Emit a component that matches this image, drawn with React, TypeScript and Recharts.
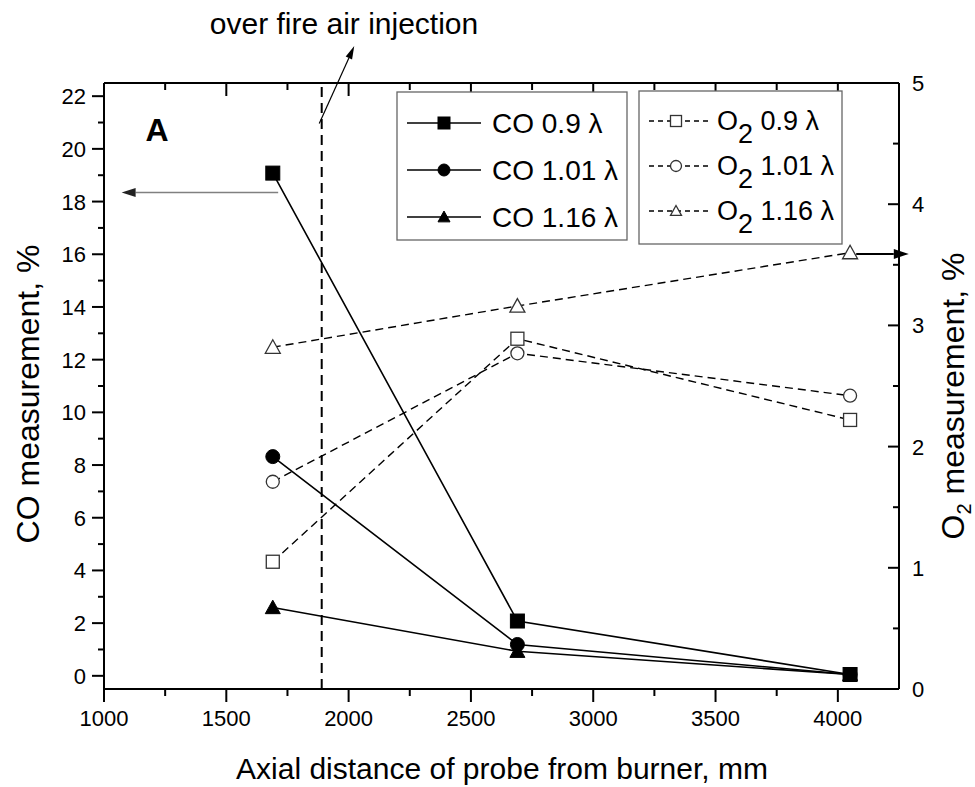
import React from 'react';
import { ComposedChart, Line, XAxis, YAxis, ReferenceLine, Legend, Label } from 'recharts';

// ---------- data ----------
const distances = [1690, 2690, 4050];
const co09 = [19.08, 2.08, 0.05];
const co101 = [8.32, 1.19, 0.05];
const co116 = [2.59, 0.93, 0.05];
const o209 = [1.05, 2.89, 2.22];
const o2101 = [1.71, 2.77, 2.42];
const o2116 = [2.82, 3.16, 3.6];

const xTicks = [1000, 1250, 1500, 1750, 2000, 2250, 2500, 2750, 3000, 3250, 3500, 3750, 4000];
const coTicks = [0, 1, 2, 3, 4, 5, 6, 7, 8, 9, 10, 11, 12, 13, 14, 15, 16, 17, 18, 19, 20, 21, 22];
const o2Ticks = [0, 0.5, 1, 1.5, 2, 2.5, 3, 3.5, 4, 4.5, 5];

const ofaPosition = 1890;
const coLegend = ['CO 0.9 λ', 'CO 1.01 λ', 'CO 1.16 λ'];
const o2Legend = ['0.9 λ', '1.01 λ', '1.16 λ'];
const markerShapes = ['square', 'circle', 'triangle'];

const data = distances.map((d, i) => ({
  x: d,
  co09: co09[i],
  co101: co101[i],
  co116: co116[i],
  o209: o209[i],
  o2101: o2101[i],
  o2116: o2116[i],
}));

const FONT = '"Liberation Sans", Arial, Helvetica, sans-serif';

// ---------- markers ----------
const Marker = ({ cx, cy, shape, filled, size }: any) => {
  const fill = filled ? '#000' : '#fff';
  const stroke = filled ? '#000' : '#333';
  const sw = filled ? 1 : 1.3;
  if (shape === 'square') {
    return <rect x={cx - size / 2} y={cy - size / 2} width={size} height={size} fill={fill} stroke={stroke} strokeWidth={sw} />;
  }
  if (shape === 'circle') {
    return <circle cx={cx} cy={cy} r={size / 2} fill={fill} stroke={stroke} strokeWidth={sw} />;
  }
  const h = size * 0.9;
  return (
    <polygon
      points={`${cx},${cy - h * 0.55} ${cx - size / 2},${cy + h * 0.45} ${cx + size / 2},${cy + h * 0.45}`}
      fill={fill}
      stroke={stroke}
      strokeWidth={sw}
      strokeLinejoin="miter"
    />
  );
};

const dotFn = (shape: string, filled: boolean, size: number) => (p: any) => (
  <Marker key={`m-${shape}-${filled}-${p.index}`} cx={p.cx} cy={p.cy} shape={shape} filled={filled} size={size} />
);

// ---------- ticks ----------
const BottomTick = (p: any) => {
  const { x, y, payload } = p;
  const v = payload.value;
  const major = v % 500 === 0;
  return (
    <g>
      <line x1={x} y1={y} x2={x} y2={y + (major ? 13 : 7)} stroke="#000" strokeWidth={2} />
      {major && (
        <text x={x} y={y + 37} textAnchor="middle" fontSize={22} fontFamily={FONT} fill="#000">
          {v}
        </text>
      )}
    </g>
  );
};

const TopTick = (p: any) => {
  const { x, y, payload } = p;
  const major = payload.value % 500 === 0;
  return <line x1={x} y1={y} x2={x} y2={y + (major ? 13 : 7)} stroke="#000" strokeWidth={2} />;
};

const LeftTick = (p: any) => {
  const { x, y, payload } = p;
  const v = payload.value;
  const major = v % 2 === 0;
  return (
    <g>
      <line x1={x - (major ? 12 : 6)} y1={y} x2={x} y2={y} stroke="#000" strokeWidth={2} />
      {major && (
        <text x={x - 18} y={y + 8} textAnchor="end" fontSize={22} fontFamily={FONT} fill="#000">
          {v}
        </text>
      )}
    </g>
  );
};

const RightTick = (p: any) => {
  const { x, y, payload } = p;
  const v = payload.value;
  const major = Number.isInteger(v);
  return (
    <g>
      <line x1={x - (major ? 11 : 6)} y1={y} x2={x} y2={y} stroke="#000" strokeWidth={2} />
      {major && (
        <text x={x + 13} y={y + 8} textAnchor="start" fontSize={22} fontFamily={FONT} fill="#000">
          {v}
        </text>
      )}
    </g>
  );
};

// ---------- arrows ----------
const arrowShape = (color: string, headColor: string, width: number, headLen: number, headHalf: number) => (props: any) => {
  const { x1, y1, x2, y2 } = props;
  const dx = x2 - x1;
  const dy = y2 - y1;
  const len = Math.hypot(dx, dy) || 1;
  const ux = dx / len;
  const uy = dy / len;
  const bx = x2 - ux * headLen;
  const by = y2 - uy * headLen;
  const px = -uy;
  const py = ux;
  return (
    <g>
      <line x1={x1} y1={y1} x2={bx} y2={by} stroke={color} strokeWidth={width} />
      <polygon
        points={`${x2},${y2} ${bx + px * headHalf},${by + py * headHalf} ${bx - px * headHalf},${by - py * headHalf}`}
        fill={headColor}
      />
    </g>
  );
};

// ---------- legend / annotations overlay ----------
const LegendContent = () => {
  const coRows = [123, 170, 217];
  const o2Rows = [121, 166, 211];
  return (
    <svg width={975} height={787} style={{ position: 'absolute', left: 0, top: 0, overflow: 'visible' }}>
      <text x={157} y={141} textAnchor="middle" fontSize={32} fontWeight="bold" fontFamily={FONT} fill="#000">
        A
      </text>
      <rect x={397} y={92} width={230} height={148} fill="#fff" stroke="#666" strokeWidth={1.3} />
      {coLegend.map((t, i) => (
        <g key={t}>
          <line x1={407} y1={coRows[i]} x2={481} y2={coRows[i]} stroke="#000" strokeWidth={1.6} />
          <Marker cx={444} cy={coRows[i]} shape={markerShapes[i]} filled size={12} />
          <text x={492} y={coRows[i] + 10} fontSize={28} fontFamily={FONT} fill="#000">
            {t}
          </text>
        </g>
      ))}
      <rect x={639} y={91} width={203} height={153} fill="#fff" stroke="#666" strokeWidth={1.3} />
      {o2Legend.map((t, i) => (
        <g key={t}>
          <line x1={649} y1={o2Rows[i]} x2={710} y2={o2Rows[i]} stroke="#000" strokeWidth={1.3} strokeDasharray="5 4" />
          <Marker cx={676} cy={o2Rows[i]} shape={markerShapes[i]} filled={false} size={11} />
          <text x={717} y={o2Rows[i] + 9} fontSize={27} fontFamily={FONT} fill="#000">
            O<tspan dy={13}>2</tspan>
            <tspan dy={-13}>{' ' + t}</tspan>
          </text>
        </g>
      ))}
    </svg>
  );
};

// ---------- axis titles ----------
const LeftTitle = () => (
  <text x={39} y={394} transform="rotate(-90 39 394)" textAnchor="middle" fontSize={32} fontFamily={FONT} fill="#000">
    CO measurement, %
  </text>
);

const RightTitle = () => (
  <text x={964} y={396} transform="rotate(-90 964 396)" textAnchor="middle" fontSize={32} fontFamily={FONT} fill="#000">
    O<tspan dy={7} fontSize={20}>2</tspan>
    <tspan dy={-7}> measurement, %</tspan>
  </text>
);

const BottomTitle = () => (
  <text x={502} y={779} textAnchor="middle" fontSize={30} fontFamily={FONT} fill="#000">
    Axial distance of probe from burner, mm
  </text>
);

export default function App() {
  const axisLine = { stroke: '#000', strokeWidth: 2 };
  return (
    <div style={{ position: 'absolute', left: 0, top: 0, width: 975, height: 787, background: '#fff' }}>
      <ComposedChart width={975} height={787} data={data} margin={{ top: 73, right: 16, bottom: 58, left: 44 }}>
        <XAxis
          type="number"
          dataKey="x"
          domain={[1000, 4250]}
          ticks={xTicks}
          interval={0}
          allowDataOverflow
          height={40}
          tickSize={0}
          tickMargin={0}
          tickLine={false}
          axisLine={axisLine}
          tick={(p: any) => <BottomTick {...p} />}
        >
          <Label content={() => <BottomTitle />} />
        </XAxis>
        <XAxis
          xAxisId="top"
          orientation="top"
          type="number"
          dataKey="x"
          domain={[1000, 4250]}
          ticks={xTicks}
          interval={0}
          allowDataOverflow
          height={10}
          tickSize={0}
          tickMargin={0}
          tickLine={false}
          axisLine={axisLine}
          tick={(p: any) => <TopTick {...p} />}
        />
        <YAxis
          yAxisId="co"
          type="number"
          domain={[-0.5, 22.5]}
          ticks={coTicks}
          interval={0}
          allowDataOverflow
          width={60}
          tickSize={0}
          tickMargin={0}
          tickLine={false}
          axisLine={axisLine}
          tick={(p: any) => <LeftTick {...p} />}
        >
          <Label content={() => <LeftTitle />} />
        </YAxis>
        <YAxis
          yAxisId="o2"
          orientation="right"
          type="number"
          domain={[0, 5]}
          ticks={o2Ticks}
          interval={0}
          allowDataOverflow
          width={60}
          tickSize={0}
          tickMargin={0}
          tickLine={false}
          axisLine={axisLine}
          tick={(p: any) => <RightTick {...p} />}
        >
          <Label content={() => <RightTitle />} />
        </YAxis>

        <ReferenceLine x={ofaPosition} yAxisId="co" stroke="#000" strokeWidth={2} strokeDasharray="10 6" />
        <ReferenceLine
          yAxisId="co"
          ifOverflow="visible"
          segment={[{ x: 1712, y: 18.34 }, { x: 1072, y: 18.34 }]}
          shape={arrowShape('#808080', '#222', 1.5, 14, 4.5)}
        />
        <ReferenceLine
          yAxisId="co"
          ifOverflow="visible"
          segment={[{ x: 1880, y: 20.96 }, { x: 2023, y: 23.9 }]}
          shape={arrowShape('#000', '#000', 1.2, 13, 3.5)}
        />
        <ReferenceLine
          yAxisId="o2"
          ifOverflow="visible"
          segment={[{ x: 4075, y: 3.59 }, { x: 4290, y: 3.59 }]}
          shape={arrowShape('#000', '#000', 2, 15, 5)}
        />

        <Line yAxisId="co" type="linear" dataKey="co09" stroke="#000" strokeWidth={1.6} dot={dotFn('square', true, 14)} activeDot={false} isAnimationActive={false} />
        <Line yAxisId="co" type="linear" dataKey="co101" stroke="#000" strokeWidth={1.6} dot={dotFn('circle', true, 14)} activeDot={false} isAnimationActive={false} />
        <Line yAxisId="co" type="linear" dataKey="co116" stroke="#000" strokeWidth={1.6} dot={dotFn('triangle', true, 15)} activeDot={false} isAnimationActive={false} />
        <Line yAxisId="o2" type="linear" dataKey="o209" stroke="#000" strokeWidth={1.4} strokeDasharray="8 5" dot={dotFn('square', false, 13)} activeDot={false} isAnimationActive={false} />
        <Line yAxisId="o2" type="linear" dataKey="o2101" stroke="#000" strokeWidth={1.4} strokeDasharray="8 5" dot={dotFn('circle', false, 13)} activeDot={false} isAnimationActive={false} />
        <Line yAxisId="o2" type="linear" dataKey="o2116" stroke="#000" strokeWidth={1.4} strokeDasharray="8 5" dot={dotFn('triangle', false, 15)} activeDot={false} isAnimationActive={false} />

        <Legend
          content={() => <LegendContent />}
          layout="horizontal"
          verticalAlign="middle"
          align="center"
          wrapperStyle={{ left: 0, top: 0, width: 975, height: 787, pointerEvents: 'none' }}
        />
      </ComposedChart>
      <div style={{ position: 'absolute', left: 0, top: 0 }}>
        <svg width={975} height={60} style={{ display: 'block' }}>
          <text x={344} y={34} textAnchor="middle" fontSize={30} fontFamily={FONT} fill="#000">
            over fire air injection
          </text>
        </svg>
      </div>
    </div>
  );
}
